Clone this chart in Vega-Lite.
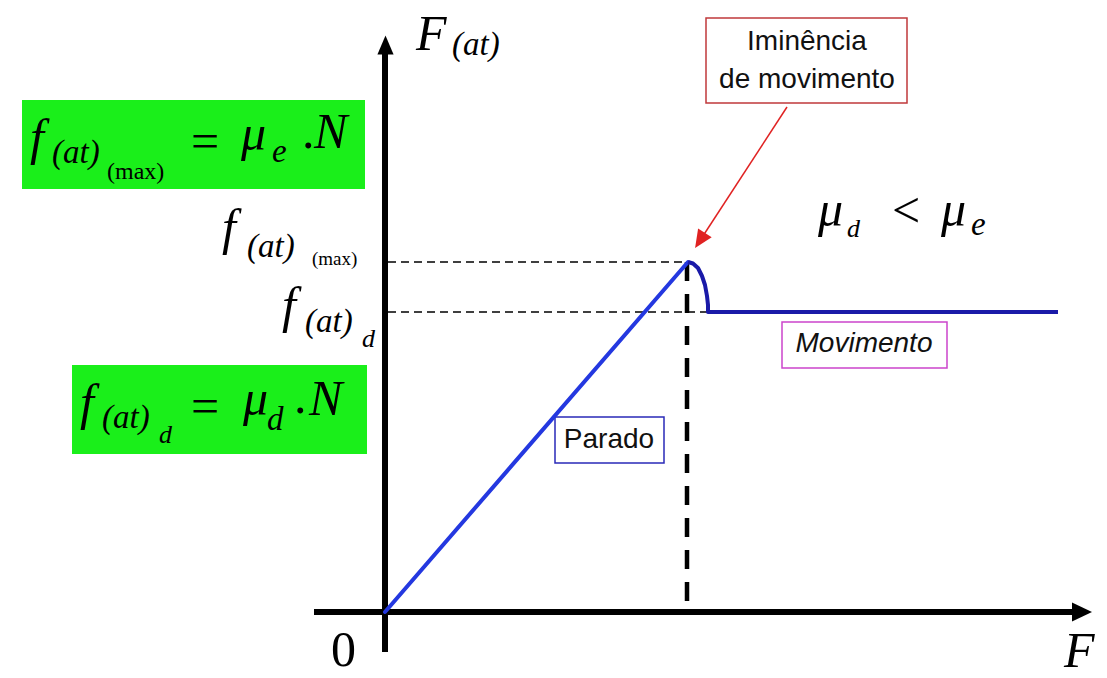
{
  "$schema": "https://vega.github.io/schema/vega-lite/v6.json",
  "width": 1107,
  "height": 678,
  "padding": 0,
  "autosize": "none",
  "background": "white",
  "config": {"view": {"stroke": null}},
  "encoding": {
    "x": {"field": "x", "type": "quantitative", "scale": {"domain": [-385, 722], "nice": false, "zero": false}, "axis": null},
    "y": {"field": "y", "type": "quantitative", "scale": {"domain": [-66, 612], "nice": false, "zero": false}, "axis": null}
  },
  "layer": [
    {
      "data": {"values": [
        {"name": "max", "x": -363, "x2": -20, "y": 423, "y2": 512},
        {"name": "d", "x": -313, "x2": -18, "y": 158, "y2": 247}
      ]},
      "mark": {"type": "rect", "fill": "#1aef1a"},
      "encoding": {"x2": {"field": "x2"}, "y2": {"field": "y2"}}
    },
    {
      "data": {"values": [{"name": "Iminência", "x": 321, "x2": 522, "y": 509, "y2": 594}]},
      "mark": {"type": "rect", "fill": "white", "stroke": "#c0393b", "strokeWidth": 1.5},
      "encoding": {"x2": {"field": "x2"}, "y2": {"field": "y2"}}
    },
    {
      "data": {"values": [{"name": "Movimento", "x": 397, "x2": 562, "y": 244, "y2": 290}]},
      "mark": {"type": "rect", "fill": "white", "stroke": "#cc44cc", "strokeWidth": 1.5},
      "encoding": {"x2": {"field": "x2"}, "y2": {"field": "y2"}}
    },
    {
      "data": {"values": [{"name": "Parado", "x": 170, "x2": 279, "y": 149, "y2": 195}]},
      "mark": {"type": "rect", "fill": "white", "stroke": "#2a2ab8", "strokeWidth": 1.5},
      "encoding": {"x2": {"field": "x2"}, "y2": {"field": "y2"}}
    },
    {
      "data": {"values": [
        {"name": "f_max", "x": 3, "x2": 303, "y": 350, "y2": 350},
        {"name": "f_d", "x": 3, "x2": 323, "y": 300, "y2": 300}
      ]},
      "mark": {"type": "rule", "color": "black", "strokeWidth": 1.5, "strokeDash": [8, 5], "strokeCap": "butt"},
      "encoding": {"x2": {"field": "x2"}, "y2": {"field": "y2"}}
    },
    {
      "data": {"values": [{"name": "F_limite", "x": 302, "x2": 302, "y": 350, "y2": 9}]},
      "mark": {"type": "rule", "color": "black", "strokeWidth": 4.5, "strokeDash": [19, 13], "strokeCap": "butt"},
      "encoding": {"x2": {"field": "x2"}, "y2": {"field": "y2"}}
    },
    {
      "data": {"values": [
        {"name": "eixo_y", "x": 0, "x2": 0, "y": -40, "y2": 558},
        {"name": "eixo_x", "x": -71, "x2": 690, "y": 0, "y2": 0}
      ]},
      "mark": {"type": "rule", "color": "black", "strokeWidth": 6, "strokeCap": "butt"},
      "encoding": {"x2": {"field": "x2"}, "y2": {"field": "y2"}}
    },
    {
      "data": {"values": [
        {"i": 0, "x": 0, "y": 0},
        {"i": 1, "x": 303, "y": 350}
      ]},
      "mark": {"type": "line", "color": "#2438e0", "strokeWidth": 4, "strokeCap": "round"},
      "encoding": {"order": {"field": "i", "type": "quantitative"}}
    },
    {
      "data": {"values": [
        {"i": 0, "x": 303, "y": 350},
        {"i": 1, "x": 308, "y": 348.5},
        {"i": 2, "x": 313, "y": 344},
        {"i": 3, "x": 317, "y": 336},
        {"i": 4, "x": 320, "y": 327},
        {"i": 5, "x": 322, "y": 316},
        {"i": 6, "x": 323, "y": 307},
        {"i": 7, "x": 323, "y": 300},
        {"i": 8, "x": 673, "y": 300}
      ]},
      "mark": {"type": "line", "color": "#1a1aa8", "strokeWidth": 4, "strokeJoin": "round"},
      "encoding": {"order": {"field": "i", "type": "quantitative"}}
    },
    {
      "data": {"values": [{"name": "seta", "x": 402, "x2": 316, "y": 505, "y2": 373}]},
      "mark": {"type": "rule", "color": "#e02222", "strokeWidth": 1.5},
      "encoding": {"x2": {"field": "x2"}, "y2": {"field": "y2"}}
    },
    {
      "data": {"values": [{"name": "ponta_y", "x": 0.5, "y": 567}]},
      "mark": {"type": "point", "shape": "M0,-1L-0.85,1L0.85,1Z", "size": 361, "filled": true, "opacity": 1, "color": "black", "strokeWidth": 0}
    },
    {
      "data": {"values": [{"name": "ponta_x", "x": 697, "y": 0}]},
      "mark": {"type": "point", "shape": "M1,0L-1,-0.95L-1,0.95Z", "size": 400, "filled": true, "opacity": 1, "color": "black", "strokeWidth": 0}
    },
    {
      "data": {"values": [{"name": "ponta_seta", "x": 315, "y": 371.5}]},
      "mark": {"type": "point", "shape": "M0,-1L-0.9,1L0.9,1Z", "size": 324, "angle": 213, "filled": true, "opacity": 1, "color": "#e02222", "strokeWidth": 0}
    },
    {
      "data": {"values": [
        {"t": "f", "x": -355, "y": 458},
        {"t": "f", "x": -305, "y": 193},
        {"t": "f", "x": -163, "y": 368},
        {"t": "f", "x": -103, "y": 290},
        {"t": "N", "x": -71, "y": 464},
        {"t": "N", "x": -76, "y": 197},
        {"t": "μ", "x": -144, "y": 462},
        {"t": "μ", "x": -142, "y": 197},
        {"t": "F", "x": 31, "y": 562},
        {"t": "F", "x": 679, "y": -55},
        {"t": "μ", "x": 433, "y": 386},
        {"t": "μ", "x": 556, "y": 386}
      ]},
      "mark": {"type": "text", "font": "Liberation Serif", "fontStyle": "italic", "fontSize": 50, "align": "left", "baseline": "alphabetic", "color": "black"},
      "encoding": {"text": {"field": "t"}}
    },
    {
      "data": {"values": [
        {"t": "(at)", "x": -333, "y": 449},
        {"t": "(at)", "x": -283, "y": 184},
        {"t": "(at)", "x": -138, "y": 355},
        {"t": "(at)", "x": -80, "y": 280},
        {"t": "(at)", "x": 67, "y": 557},
        {"t": "e", "x": -113, "y": 450},
        {"t": "d", "x": -118, "y": 182},
        {"t": "e", "x": 586, "y": 377}
      ]},
      "mark": {"type": "text", "font": "Liberation Serif", "fontStyle": "italic", "fontSize": 33, "align": "left", "baseline": "alphabetic", "color": "black"},
      "encoding": {"text": {"field": "t"}}
    },
    {
      "data": {"values": [
        {"t": "d", "x": -226, "y": 169},
        {"t": "d", "x": -23, "y": 265},
        {"t": "d", "x": 462, "y": 375}
      ]},
      "mark": {"type": "text", "font": "Liberation Serif", "fontStyle": "italic", "fontSize": 26, "align": "left", "baseline": "alphabetic", "color": "black"},
      "encoding": {"text": {"field": "t"}}
    },
    {
      "data": {"values": [{"t": "(max)", "x": -278, "y": 433}]},
      "mark": {"type": "text", "font": "Liberation Serif", "fontSize": 24, "align": "left", "baseline": "alphabetic", "color": "black"},
      "encoding": {"text": {"field": "t"}}
    },
    {
      "data": {"values": [{"t": "(max)", "x": -73, "y": 347}]},
      "mark": {"type": "text", "font": "Liberation Serif", "fontSize": 19, "align": "left", "baseline": "alphabetic", "color": "black"},
      "encoding": {"text": {"field": "t"}}
    },
    {
      "data": {"values": [
        {"t": "=", "x": -194, "y": 454},
        {"t": "=", "x": -194, "y": 189},
        {"t": ".", "x": -83, "y": 464},
        {"t": ".", "x": -91, "y": 199},
        {"t": "<", "x": 507, "y": 385},
        {"t": "0", "x": -54, "y": -54}
      ]},
      "mark": {"type": "text", "font": "Liberation Serif", "fontSize": 50, "align": "left", "baseline": "alphabetic", "color": "black"},
      "encoding": {"text": {"field": "t"}}
    },
    {
      "data": {"values": [
        {"t": "Iminência", "x": 422, "y": 562},
        {"t": "de movimento", "x": 422, "y": 524},
        {"t": "Parado", "x": 224, "y": 164}
      ]},
      "mark": {"type": "text", "font": "Liberation Sans", "fontSize": 28, "align": "center", "baseline": "alphabetic", "color": "#111111"},
      "encoding": {"text": {"field": "t"}}
    },
    {
      "data": {"values": [{"t": "Movimento", "x": 479, "y": 260}]},
      "mark": {"type": "text", "font": "Liberation Sans", "fontStyle": "italic", "fontSize": 28, "align": "center", "baseline": "alphabetic", "color": "#111111"},
      "encoding": {"text": {"field": "t"}}
    }
  ]
}
